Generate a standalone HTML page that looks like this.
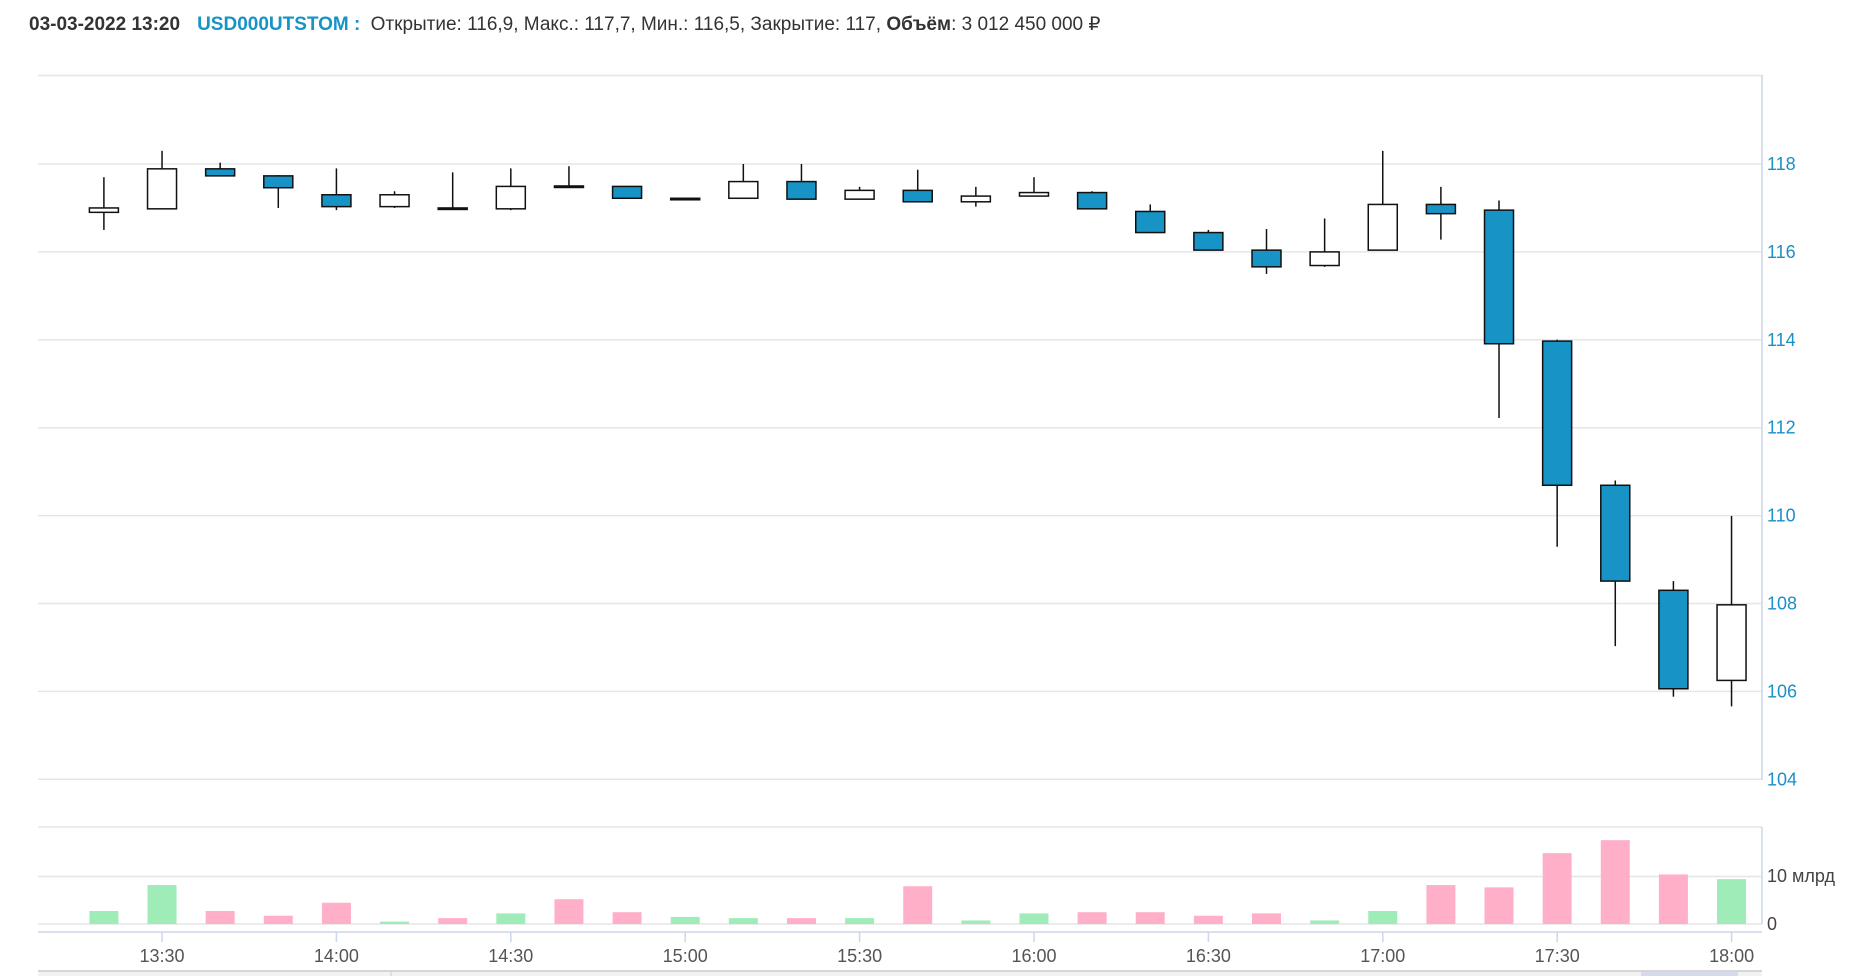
<!DOCTYPE html>
<html><head><meta charset="utf-8"><style>
html,body{margin:0;padding:0;background:#fff;width:1852px;height:976px;overflow:hidden}
svg{display:block;font-family:"Liberation Sans","DejaVu Sans",sans-serif}
</style></head><body>
<svg id="c" width="1852" height="976" xmlns="http://www.w3.org/2000/svg">
<text x="29" y="30" font-size="19" fill="#333"><tspan font-weight="bold">03-03-2022 13:20</tspan><tspan dx="17" font-weight="bold" fill="#1793c6">USD000UTSTOM :</tspan><tspan dx="5"> Открытие: 116,9, Макс.: 117,7, Мин.: 116,5, Закрытие: 117, </tspan><tspan font-weight="bold">Объём</tspan><tspan>: 3 012 450 000 ₽</tspan></text>
</svg>
<script>
(function(){
var s=document.getElementById('c'),NS='http://www.w3.org/2000/svg';
function el(t,a,txt){var e=document.createElementNS(NS,t);for(var k in a)e.setAttribute(k,a[k]);if(txt!==undefined)e.textContent=txt;s.appendChild(e);return e;}
function py(p){return 164+(118-p)*43.95;}
el('line',{x1:38,x2:1762,y1:75.5,y2:75.5,stroke:'#e6e6e6','stroke-width':1.5});
for(var p=104;p<=118;p+=2){var y=py(p);el('line',{x1:38,x2:1762,y1:y,y2:y,stroke:'#e6e6e6','stroke-width':1.5});
el('text',{x:1767,y:y+6,'font-size':18,fill:'#1a8fc9'},String(p));}
el('line',{x1:1762,x2:1762,y1:75,y2:780,stroke:'#ccd6eb','stroke-width':1.5});
[827,876.5,924].forEach(function(y){el('line',{x1:38,x2:1762,y1:y,y2:y,stroke:'#e6e6e6','stroke-width':1.5});});
el('line',{x1:1762,x2:1762,y1:827,y2:924,stroke:'#ccd6eb','stroke-width':1.5});
el('text',{x:1767,y:882,'font-size':18,fill:'#444'},'10 млрд');
el('text',{x:1767,y:930,'font-size':18,fill:'#444'},'0');
el('line',{x1:38,x2:1762,y1:932,y2:932,stroke:'#ccd6eb','stroke-width':1.5});
var labels=['13:30','14:00','14:30','15:00','15:30','16:00','16:30','17:00','17:30','18:00'];
for(var i=0;i<10;i++){var x=162+174.4*i;el('line',{x1:x,x2:x,y1:932,y2:942,stroke:'#ccd6eb','stroke-width':1.5});
el('text',{x:x,y:962,'font-size':18,fill:'#555','text-anchor':'middle'},labels[i]);}
el('rect',{x:38,y:970,width:1724,height:6,fill:'#f2f2f2'});
el('line',{x1:38,x2:1762,y1:971,y2:971,stroke:'#ccc','stroke-width':1.5});
el('line',{x1:391,x2:391,y1:971,y2:976,stroke:'#ccc'});
el('rect',{x:1641,y:972,width:97,height:4,fill:'#d5dbea'});
var C=[[116.9,117,117.7,116.5],[116.98,117.89,118.3,116.98],[117.89,117.73,118.03,117.73],[117.73,117.46,117.75,117.0],
[117.3,117.03,117.9,116.95],[117.03,117.3,117.38,117.0],[117.0,117.0,117.81,117.0],[116.98,117.49,117.9,116.95],
[117.5,117.5,117.95,117.5],[117.49,117.22,117.49,117.22],[117.22,117.22,117.22,117.22],[117.22,117.6,118.0,117.22],
[117.6,117.2,118.0,117.2],[117.2,117.4,117.48,117.2],[117.4,117.14,117.87,117.14],[117.14,117.27,117.48,117.03],
[117.27,117.35,117.7,117.27],[117.35,116.98,117.38,116.98],[116.92,116.44,117.08,116.44],[116.44,116.04,116.5,116.04],
[116.04,115.66,116.52,115.5],[115.69,116.0,116.76,115.66],[116.04,117.08,118.3,116.04],[117.08,116.87,117.48,116.28],
[116.95,113.91,117.17,112.22],[113.97,110.69,114.0,109.29],[110.69,108.51,110.8,107.03],[108.3,106.06,108.51,105.88],
[106.25,107.97,109.99,105.66]];
var V=[11,33,11,7,18,2,5,9,21,10,6,5,5,5,32,3,9,10,10,7,9,3,11,33,31,60,71,42,38];
var G=[1,1,0,0,0,1,0,1,0,0,1,1,0,1,0,1,1,0,0,0,0,1,1,0,0,0,0,0,1];
for(var i=0;i<29;i++){var x=103.9+58.13*i,c=C[i];
var yo=py(c[0]),yc=py(c[1]),yh=py(c[2]),yl=py(c[3]);
var bt=Math.min(yo,yc),h=Math.max(Math.abs(yo-yc),1.5);
el('line',{x1:x,x2:x,y1:yh,y2:yl,stroke:'#111','stroke-width':1.5});
el('rect',{x:x-14.5,y:bt,width:29,height:h,fill:(c[1]<c[0])?'#1793c6':'#fff',stroke:'#111','stroke-width':1.5});
var vh=V[i]*1.181;
el('rect',{x:x-14.5,y:924-vh,width:29,height:vh,fill:G[i]?'#a0ecb8':'#ffb0c8'});
}
})();
</script>
</body></html>
